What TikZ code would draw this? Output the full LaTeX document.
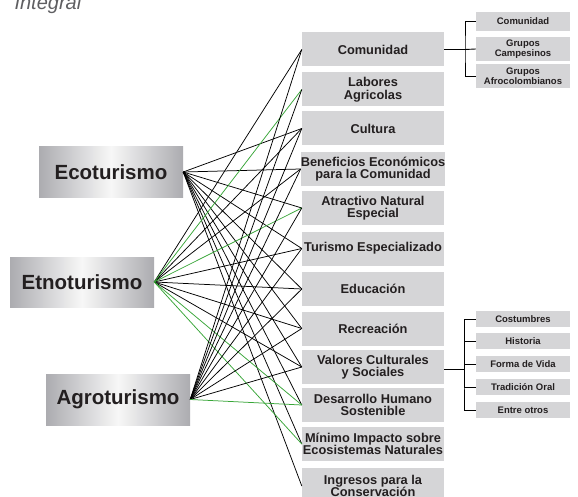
\documentclass[tikz,border=0pt]{standalone}
\usepackage{fontspec}
\setmainfont{Liberation Sans}
\definecolor{boxgray}{RGB}{213,213,215}
\definecolor{txt}{RGB}{35,31,32}
\definecolor{lgreen}{RGB}{55,165,55}
\definecolor{shadegray}{RGB}{172,172,176}
\definecolor{titlegray}{RGB}{95,95,98}
\begin{document}
\begin{tikzpicture}[x=1pt,y=-1pt,
  midbox/.style={fill=boxgray,minimum width=142pt,minimum height=34pt,inner sep=0pt,align=center,text=txt,font=\fontsize{12.8}{12.5}\selectfont\bfseries},
  smallbox/.style={fill=boxgray,minimum width=94pt,inner sep=0pt,align=center,text=txt,font=\fontsize{9.5}{9.5}\selectfont\bfseries},
  bigbox/.style={left color=shadegray,right color=shadegray,middle color=white!94!gray,minimum width=144pt,minimum height=51pt,inner sep=0pt,text=txt,font=\fontsize{20.5}{22}\selectfont\bfseries},
  conn/.style={line width=0.75pt,black},
  gconn/.style={line width=0.75pt,lgreen},
  brack/.style={line width=0.9pt,black}]
\useasboundingbox (0,0) rectangle (578,497);
\clip (0,0) rectangle (578,497);
\fill[white] (0,0) rectangle (578,497);
\node[anchor=base west,text=titlegray,font=\fontsize{20}{22}\selectfont\itshape] (title) at (11,10) {Integral};
% middle column
\node[midbox] (m1) at (373,49.5) {Comunidad};
\node[midbox] (m2) at (373,89.5) {Labores\\Agricolas};
\node[midbox] (m3) at (373,128.5) {Cultura};
\node[midbox] (m4) at (373,169) {Beneficios Económicos\\para la Comunidad};
\node[midbox] (m5) at (373,208) {Atractivo Natural\\Especial};
\node[midbox] (m6) at (373,248.5) {Turismo Especializado};
\node[midbox] (m7) at (373,289) {Educación};
\node[midbox] (m8) at (373,328.5) {Recreación};
\node[midbox] (m9) at (373,367) {Valores Culturales\\y Sociales};
\node[midbox] (m10) at (373,405) {Desarrollo Humano\\Sostenible};
\node[midbox] (m11) at (373,444) {Mínimo Impacto sobre\\Ecosistemas Naturales};
\node[midbox,minimum height=36pt] (m12) at (373,486) {Ingresos para la\\Conservación};
% left column
\node[bigbox] (eco) at (111,172) {Ecoturismo};
\node[bigbox,minimum height=50pt] (etno) at (82,282) {Etnoturismo};
\node[bigbox] (agro) at (118,399.5) {Agroturismo};
% right groups
\node[smallbox,minimum height=19pt] (r1) at (523,21.5) {Comunidad};
\node[smallbox,minimum height=24pt] (r2) at (523,49) {Grupos\\Campesinos};
\node[smallbox,minimum height=24pt] (r3) at (523,76) {Grupos\\Afrocolombianos};
\node[smallbox,minimum height=16pt] (s1) at (523,319) {Costumbres};
\node[smallbox,minimum height=16pt] (s2) at (523,341) {Historia};
\node[smallbox,minimum height=16pt] (s3) at (523,364) {Forma de Vida};
\node[smallbox,minimum height=16pt] (s4) at (523,387) {Tradición Oral};
\node[smallbox,minimum height=16pt] (s5) at (523,410) {Entre otros};
% connectors
\foreach \t in {m3,m4,m5,m6,m7,m8,m9,m10,m11,m12}
  \draw[conn] (eco.east) -- (\t.west);
\foreach \t in {m1,m3,m4,m6,m7,m8,m9}
  \draw[conn] (etno.east) -- (\t.west);
\foreach \t in {m2,m5,m10,m11}
  \draw[gconn] (etno.east) -- (\t.west);
\foreach \t in {m1,m2,m3,m4,m5,m6,m7,m8,m9}
  \draw[conn] (agro.east) -- (\t.west);
\draw[gconn] (agro.east) -- (m10.west);
% brackets
\coordinate (j1) at (465,49.5);
\draw[brack] (m1.east) -- (j1);
\draw[brack] (r1.west) -| (j1) |- (r3.west);
\draw[brack] (j1) -- (r2.west);
\coordinate (j2) at (464,369);
\draw[brack] ([yshift=-2pt]m9.east) -- (j2);
\draw[brack] (s1.west) -| (j2) |- (s5.west);
\draw[brack] (s2.west) -| (j2);
\draw[brack] (s4.west) -| (j2);
\draw[brack] (s3.west) -- (s3.west -| j2);
\end{tikzpicture}
\end{document}
